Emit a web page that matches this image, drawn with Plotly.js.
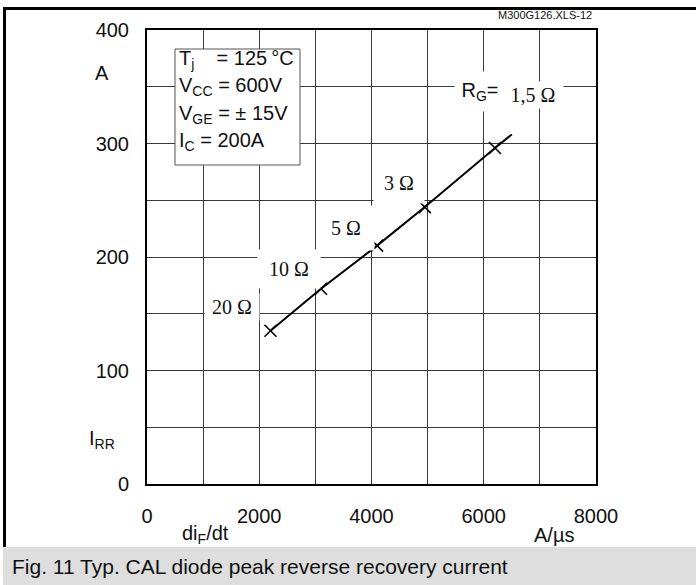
<!DOCTYPE html>
<html>
<head>
<meta charset="utf-8">
<script src="https://cdn.plot.ly/plotly-3.0.1.min.js"></script>
<style>
html,body{margin:0;padding:0;background:#fff;}
#chart{width:696px;height:585px;}
</style>
</head>
<body>
<div id="chart"></div>
<script>
// ---- data ----
const diFdt = [2200, 3100, 4100, 4950, 6200];      // A/µs
const iRR   = [135, 172, 210, 244, 296];           // A
const rgLabels = ['20 Ω', '10 Ω', '5 Ω', '3 Ω', '1,5 Ω'];
const curveX = [2200, 3100, 4100, 4950, 6200, 6500];
const curveY = [135, 172, 210, 244, 296, 308];
const xTickVals = [0, 1000, 2000, 3000, 4000, 5000, 6000, 7000, 8000];
const xTickText = ['0', '', '2000', '', '4000', '', '6000', '', '8000'];
const yTickVals = [0, 50, 100, 150, 200, 250, 300, 350, 400];
const yTickText = ['0', '', '100', '', '200', '', '300', '', '400'];
const conditions = ['T<sub>j</sub>\u00a0\u00a0\u00a0\u00a0= 125\u2009°C', 'V<sub>CC</sub> = 600V', 'V<sub>GE</sub> = ± 15V', 'I<sub>C</sub> = 200A'];

// ---- layout geometry (pixels) ----
const W = 696, H = 585;
const M = {l: 147, r: 100, t: 30, b: 101};
const PW = W - M.l - M.r, PH = H - M.t - M.b;
const px = x => (x - M.l) / PW;
const py = y => (H - M.b - y) / PH;

const SANS = 'Liberation Sans, Arial, sans-serif';
const SERIF = 'Liberation Serif, Times New Roman, serif';
const INK = '#111';

function txt(text, x, y, size, extra) {
  return Object.assign({
    text: text, xref: 'paper', yref: 'paper', x: px(x), y: py(y),
    xanchor: 'center', yanchor: 'middle', showarrow: false,
    font: {family: SANS, size: size, color: INK}
  }, extra || {});
}
function boxed(text, cx, cy, w, h, family, size) {
  return txt(text, cx, cy, size, {
    font: {family: family, size: size, color: INK},
    bgcolor: '#ffffff', borderpad: 0, width: w, height: h, align: 'center', valign: 'middle'
  });
}

const annotations = [
  txt('A', 102, 73, 20),
  txt('I<sub>RR</sub>', 102, 439, 20),
  txt('di<sub>F</sub>/dt', 205, 534, 20),
  txt('A/µs', 554, 535, 20),
  txt('M300G126.XLS-12', 545, 15, 11),
  txt('Fig. 11 Typ. CAL diode peak reverse recovery current', 10, 566, 21, {xanchor: 'left'}),
  boxed(rgLabels[0], 232, 307, 54, 26, SERIF, 20),
  boxed(rgLabels[1], 289, 269, 62, 38, SERIF, 20),
  boxed(rgLabels[2], 346, 228, 56, 44, SERIF, 20),
  boxed(rgLabels[3], 399, 183, 50, 40, SERIF, 20),
  boxed('R<sub>G</sub>=', 480, 92, 50, 39, SANS, 20),
  boxed(rgLabels[4], 533, 95, 60, 26, SERIF, 20)
];
const condY = [60, 87, 114, 141];
conditions.forEach((c, i) => annotations.push(txt(c, 177, condY[i], 20, {xanchor: 'left'})));

const shapes = [
  {type: 'rect', xref: 'paper', yref: 'paper', x0: px(3), x1: px(696), y0: py(7), y1: py(10), fillcolor: '#000', line: {width: 0}},
  {type: 'rect', xref: 'paper', yref: 'paper', x0: px(3), x1: px(6), y0: py(7), y1: py(547), fillcolor: '#000', line: {width: 0}},
  {type: 'rect', xref: 'paper', yref: 'paper', x0: px(3), x1: px(696), y0: py(547), y1: py(585), fillcolor: '#dedede', line: {width: 0}},
  {type: 'rect', xref: 'paper', yref: 'paper', layer: 'above', x0: px(175), x1: px(300), y0: py(49), y1: py(165), fillcolor: '#fff', line: {width: 1, color: '#555'}}
];

const traces = [
  {x: curveX, y: curveY, mode: 'lines', line: {color: '#000', width: 2}, hoverinfo: 'skip', showlegend: false},
  {x: diFdt, y: iRR, text: rgLabels, mode: 'markers', showlegend: false,
   marker: {symbol: 'x-thin', size: 12, color: '#000', line: {color: '#000', width: 1.6}}}
];

const axisCommon = {
  showline: true, mirror: true, linecolor: '#000', linewidth: 2,
  showgrid: true, gridcolor: '#3a3a3a', gridwidth: 1, zeroline: false,
  ticks: '', tickmode: 'array',
  tickfont: {family: SANS, size: 20, color: INK}, fixedrange: true
};

const layout = {
  width: W, height: H,
  margin: M,
  paper_bgcolor: '#fff', plot_bgcolor: '#fff',
  showlegend: false,
  xaxis: Object.assign({}, axisCommon, {range: [0, 8000], tickvals: xTickVals, ticktext: xTickText, ticklabelstandoff: 13}),
  yaxis: Object.assign({}, axisCommon, {range: [0, 400], tickvals: yTickVals, ticktext: yTickText, ticklabelstandoff: 12}),
  shapes: shapes,
  annotations: annotations
};

Plotly.newPlot('chart', traces, layout, {displayModeBar: false, staticPlot: true});
</script>
</body>
</html>
